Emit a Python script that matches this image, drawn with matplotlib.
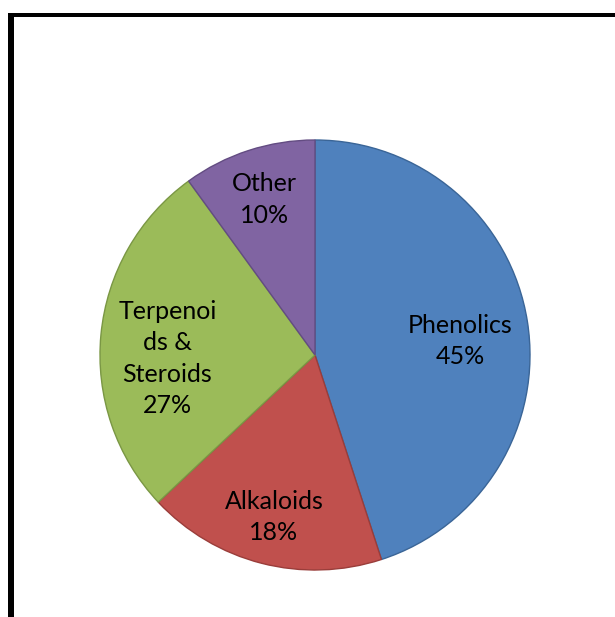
import matplotlib
matplotlib.use("Agg")
import matplotlib.pyplot as plt
from matplotlib.patches import Rectangle

categories = ["Phenolics", "Alkaloids", "Terpenoi\nds &\nSteroids", "Other"]
values = [45, 18, 27, 10]
colors = ["#4F81BD", "#C0504D", "#9BBB59", "#8064A2"]
edges = ["#3A6597", "#9A3D3A", "#7A9744", "#634C82"]
# label anchor positions (in pie radius units)
label_xy = [(0.675, 0.065), (-0.191, -0.753), (-0.687, -0.016), (-0.235, 0.723)]

W, H = 615, 617
fig = plt.figure(figsize=(W / 100, H / 100), dpi=100)
fig.patch.set_facecolor("white")

# border frame
fig.add_artist(Rectangle((8 / W, 0), 6 / W, 1 - 13 / H, transform=fig.transFigure,
                         facecolor="black", edgecolor="none"))
fig.add_artist(Rectangle((8 / W, 1 - 16.5 / H), 1, 3.5 / H, transform=fig.transFigure,
                         facecolor="black", edgecolor="none"))

cx, cy, r = 315, 355, 215
ax = fig.add_axes([(cx - r) / W, (H - cy - r) / H, 2 * r / W, 2 * r / H])
wedges, _ = ax.pie(values, colors=colors, startangle=90, counterclock=False,
                   radius=1, wedgeprops=dict(linewidth=1.0))
for w, ec in zip(wedges, edges):
    w.set_edgecolor(ec)

total = sum(values)
for cat, v, (x, y) in zip(categories, values, label_xy):
    ax.text(x, y, f"{cat}\n{round(100 * v / total)}%",
            ha="center", va="center", fontsize=18, family=["Lato", "DejaVu Sans"],
            linespacing=1.45, color="black")

ax.set_xlim(-1, 1)
ax.set_ylim(-1, 1)
ax.set_aspect("equal")
ax.axis("off")

fig.savefig("out.png", dpi=100, facecolor="white")
